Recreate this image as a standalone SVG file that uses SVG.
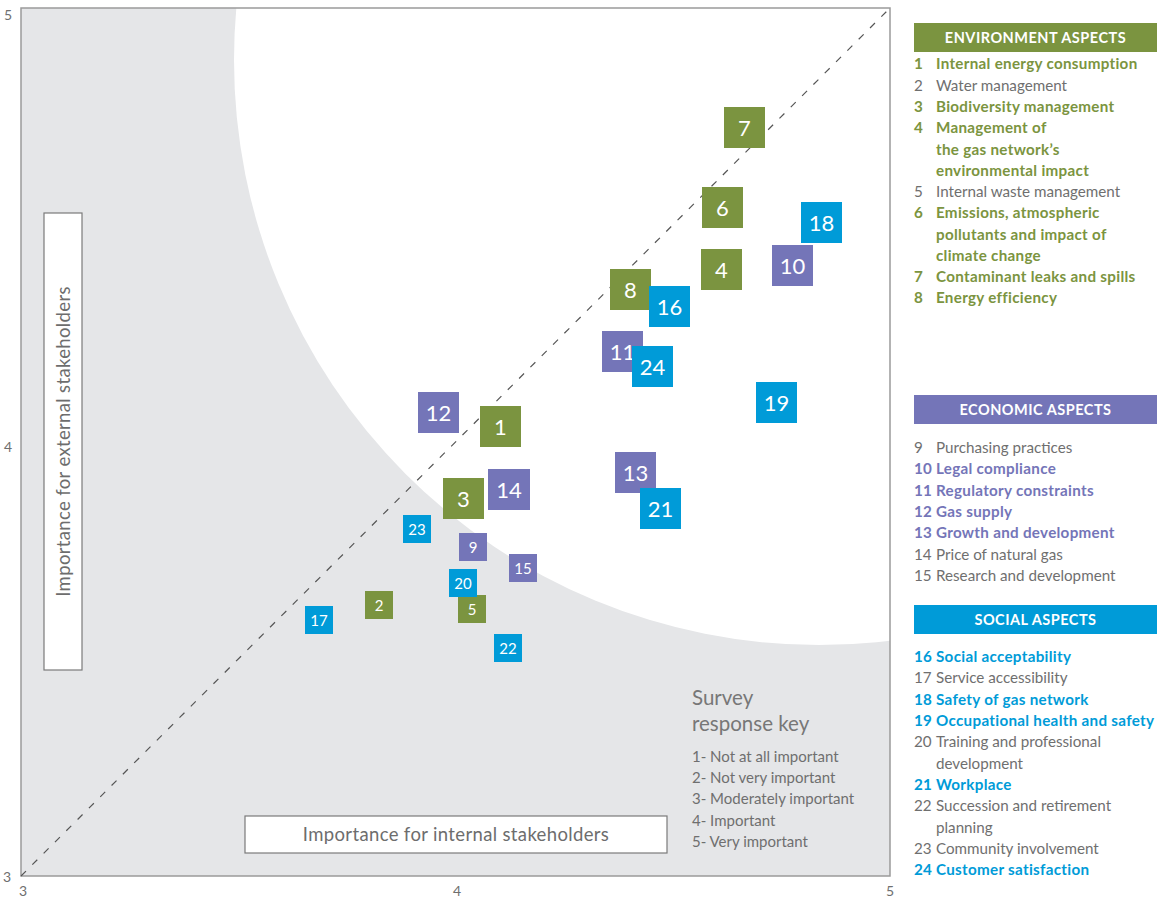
<svg xmlns="http://www.w3.org/2000/svg" width="1168" height="898" viewBox="0 0 1168 898">
<style>
.ax{font-family:Lato,"Liberation Sans",sans-serif;font-size:14px;fill:#6f6f6f}
.lbl{font-family:Lato,"Liberation Sans",sans-serif;font-size:18.5px;fill:#6d6d6d;letter-spacing:0.35px}
.key{font-family:Lato,"Liberation Sans",sans-serif;font-size:15px;fill:#6f6f6f}
.keyh{font-family:Lato,"Liberation Sans",sans-serif;font-size:20.5px;fill:#777}
.bt{font-family:Lato,"Liberation Sans",sans-serif;font-size:22px;fill:#fff;text-anchor:middle}
.st{font-family:Lato,"Liberation Sans",sans-serif;font-size:15px;fill:#fff;text-anchor:middle}
.g{fill:#7b9440}.p{fill:#7475b8}.b{fill:#009bd8}
.hd{font-family:Lato,"Liberation Sans",sans-serif;font-size:14.5px;font-weight:bold;fill:#fff;text-anchor:middle;letter-spacing:0.5px}
.li{font-family:Lato,"Liberation Sans",sans-serif;font-size:15.2px;fill:#6f6f6f}
.lg,.lp,.lb{font-weight:bold;letter-spacing:0.3px}
.lg{fill:#7b9440}.lp{fill:#7475b8}.lb{fill:#009bd8}
</style>
<defs>
<clipPath id="frame"><rect x="21" y="8" width="869" height="868"/></clipPath>
</defs>
<g id="chart-area">
<rect x="21" y="8" width="869" height="868" fill="#e5e6e8"/>
<circle cx="819" cy="60" r="585" fill="#fff" clip-path="url(#frame)"/>
<rect x="21" y="8" width="869" height="868" fill="none" stroke="#9a9a9a" stroke-width="1.5"/>
</g>
<g id="axis-ticks">
<text class="ax" x="4" y="20">5</text>
<text class="ax" x="4" y="452">4</text>
<text class="ax" x="3" y="882">3</text>
<text class="ax" x="19" y="896">3</text>
<text class="ax" x="453" y="896">4</text>
<text class="ax" x="886" y="896">5</text>
</g>
<g id="y-axis-label">
<rect x="44" y="213" width="38" height="457" fill="#fff" stroke="#7a7a7a" stroke-width="1.2"/>
<text class="lbl" transform="translate(69.5,441.5) rotate(-90)" text-anchor="middle">Importance for external stakeholders</text>
</g>
<g id="x-axis-label">
<rect x="245" y="816" width="422" height="37" fill="#fff" stroke="#7a7a7a" stroke-width="1.2"/>
<text class="lbl" x="456" y="841" text-anchor="middle">Importance for internal stakeholders</text>
</g>
<g id="connectors">
<line x1="21" y1="876" x2="890" y2="8" stroke="#555" stroke-width="1.2" stroke-dasharray="7 9"/>
</g>
<g id="survey-key">
<text class="keyh" x="692" y="705">Survey</text>
<text class="keyh" x="692" y="731">response key</text>
<text class="key" x="692" y="762">1- Not at all important</text>
<text class="key" x="692" y="783">2- Not very important</text>
<text class="key" x="692" y="804">3- Moderately important</text>
<text class="key" x="692" y="826">4- Important</text>
<text class="key" x="692" y="847">5- Very important</text>
</g>
<g id="node-7"><rect class="g" x="724" y="107" width="41" height="41"/><text class="bt" x="744.5" y="135.5">7</text></g>
<g id="node-6"><rect class="g" x="702" y="187" width="41" height="41"/><text class="bt" x="722.5" y="215.5">6</text></g>
<g id="node-4"><rect class="g" x="701" y="249" width="41" height="41"/><text class="bt" x="721.5" y="277.5">4</text></g>
<g id="node-18"><rect class="b" x="801" y="202" width="41" height="41"/><text class="bt" x="821.5" y="230.5">18</text></g>
<g id="node-10"><rect class="p" x="772" y="245" width="41" height="41"/><text class="bt" x="792.5" y="273.5">10</text></g>
<g id="node-8"><rect class="g" x="610" y="269" width="41" height="41"/><text class="bt" x="630.5" y="297.5">8</text></g>
<g id="node-16"><rect class="b" x="649" y="286" width="41" height="41"/><text class="bt" x="669.5" y="314.5">16</text></g>
<g id="node-11"><rect class="p" x="602" y="331" width="41" height="41"/><text class="bt" x="622.5" y="359.5">11</text></g>
<g id="node-24"><rect class="b" x="632" y="346" width="41" height="41"/><text class="bt" x="652.5" y="374.5">24</text></g>
<g id="node-19"><rect class="b" x="756" y="382" width="41" height="41"/><text class="bt" x="776.5" y="410.5">19</text></g>
<g id="node-13"><rect class="p" x="615" y="452" width="41" height="41"/><text class="bt" x="635.5" y="480.5">13</text></g>
<g id="node-21"><rect class="b" x="640" y="488" width="41" height="41"/><text class="bt" x="660.5" y="516.5">21</text></g>
<g id="node-12"><rect class="p" x="418" y="392" width="41" height="41"/><text class="bt" x="438.5" y="420.5">12</text></g>
<g id="node-1"><rect class="g" x="480" y="406" width="41" height="41"/><text class="bt" x="500.5" y="434.5">1</text></g>
<g id="node-3"><rect class="g" x="443" y="478" width="41" height="41"/><text class="bt" x="463.5" y="506.5">3</text></g>
<g id="node-14"><rect class="p" x="488" y="469" width="42" height="41"/><text class="bt" x="509" y="497.5">14</text></g>
<g id="node-23"><rect class="b" x="403" y="515" width="28" height="28"/><text class="st" x="417" y="534.5">23</text></g>
<g id="node-9"><rect class="p" x="459" y="533" width="28" height="28"/><text class="st" x="473" y="552.5">9</text></g>
<g id="node-15"><rect class="p" x="509" y="554" width="28" height="28"/><text class="st" x="523" y="573.5">15</text></g>
<g id="node-5"><rect class="g" x="458" y="595" width="28" height="28"/><text class="st" x="472" y="614.5">5</text></g>
<g id="node-20"><rect class="b" x="449" y="569" width="28" height="28"/><text class="st" x="463" y="588.5">20</text></g>
<g id="node-2"><rect class="g" x="365" y="591" width="28" height="28"/><text class="st" x="379" y="610.5">2</text></g>
<g id="node-17"><rect class="b" x="305" y="606" width="28" height="28"/><text class="st" x="319" y="625.5">17</text></g>
<g id="node-22"><rect class="b" x="494" y="634" width="28" height="28"/><text class="st" x="508" y="653.5">22</text></g>
<g id="legend-environment">
<rect class="g" x="914" y="23" width="243" height="29"/>
<text class="hd" x="1035.5" y="43">ENVIRONMENT ASPECTS</text>
<text class="li lg" x="914" y="69">1</text><text class="li lg" x="936" y="69">Internal energy consumption</text>
<text class="li" x="914" y="91">2</text><text class="li" x="936" y="91">Water management</text>
<text class="li lg" x="914" y="112">3</text><text class="li lg" x="936" y="112">Biodiversity management</text>
<text class="li lg" x="914" y="133">4</text><text class="li lg" x="936" y="133">Management of</text>
<text class="li lg" x="936" y="155">the gas network’s</text>
<text class="li lg" x="936" y="176">environmental impact</text>
<text class="li" x="914" y="197">5</text><text class="li" x="936" y="197">Internal waste management</text>
<text class="li lg" x="914" y="218">6</text><text class="li lg" x="936" y="218">Emissions, atmospheric</text>
<text class="li lg" x="936" y="240">pollutants and impact of</text>
<text class="li lg" x="936" y="261">climate change</text>
<text class="li lg" x="914" y="282">7</text><text class="li lg" x="936" y="282">Contaminant leaks and spills</text>
<text class="li lg" x="914" y="303">8</text><text class="li lg" x="936" y="303">Energy efficiency</text>
</g>
<g id="legend-economic">
<rect class="p" x="914" y="395" width="243" height="29"/>
<text class="hd" x="1035.5" y="415">ECONOMIC ASPECTS</text>
<text class="li" x="914" y="453">9</text><text class="li" x="936" y="453">Purchasing practices</text>
<text class="li lp" x="914" y="474">10</text><text class="li lp" x="936" y="474">Legal compliance</text>
<text class="li lp" x="914" y="496">11</text><text class="li lp" x="936" y="496">Regulatory constraints</text>
<text class="li lp" x="914" y="517">12</text><text class="li lp" x="936" y="517">Gas supply</text>
<text class="li lp" x="914" y="538">13</text><text class="li lp" x="936" y="538">Growth and development</text>
<text class="li" x="914" y="560">14</text><text class="li" x="936" y="560">Price of natural gas</text>
<text class="li" x="914" y="581">15</text><text class="li" x="936" y="581">Research and development</text>
</g>
<g id="legend-social">
<rect class="b" x="914" y="605" width="243" height="29"/>
<text class="hd" x="1035.5" y="625">SOCIAL ASPECTS</text>
<text class="li lb" x="914" y="662">16</text><text class="li lb" x="936" y="662">Social acceptability</text>
<text class="li" x="914" y="683">17</text><text class="li" x="936" y="683">Service accessibility</text>
<text class="li lb" x="914" y="705">18</text><text class="li lb" x="936" y="705">Safety of gas network</text>
<text class="li lb" x="914" y="726">19</text><text class="li lb" x="936" y="726">Occupational health and safety</text>
<text class="li" x="914" y="747">20</text><text class="li" x="936" y="747">Training and professional</text>
<text class="li" x="936" y="769">development</text>
<text class="li lb" x="914" y="790">21</text><text class="li lb" x="936" y="790">Workplace</text>
<text class="li" x="914" y="811">22</text><text class="li" x="936" y="811">Succession and retirement</text>
<text class="li" x="936" y="833">planning</text>
<text class="li" x="914" y="854">23</text><text class="li" x="936" y="854">Community involvement</text>
<text class="li lb" x="914" y="875">24</text><text class="li lb" x="936" y="875">Customer satisfaction</text>
</g>
</svg>
